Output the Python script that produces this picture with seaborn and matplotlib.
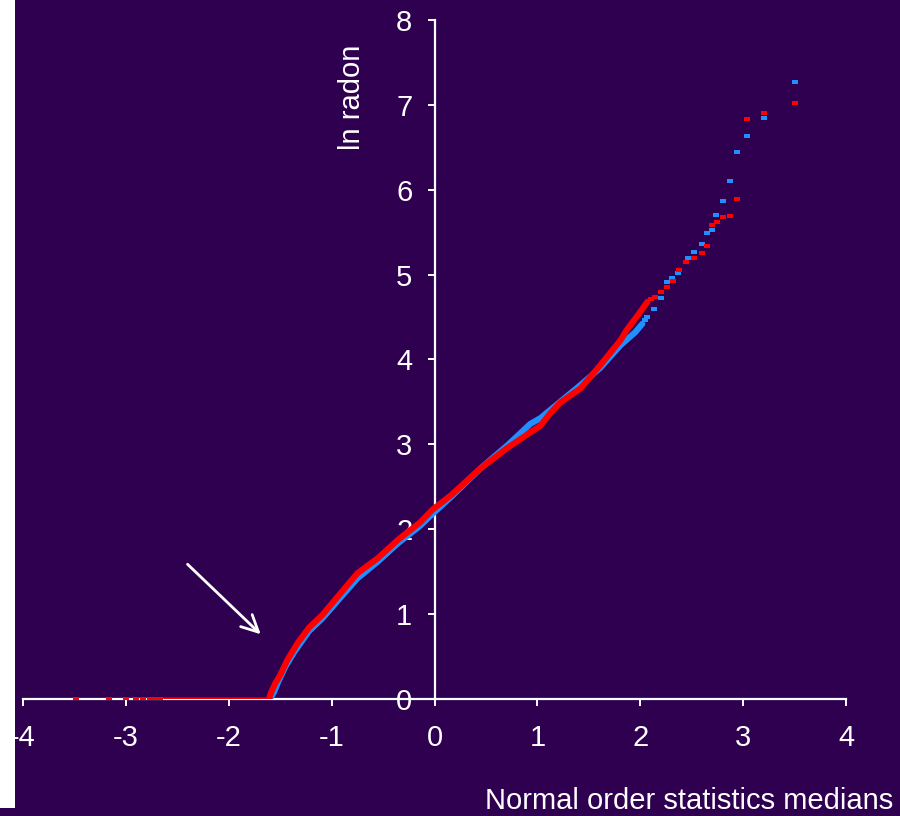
import numpy as np
import pandas as pd
import matplotlib
matplotlib.use("Agg")
import matplotlib.pyplot as plt
from matplotlib.patches import Rectangle
import seaborn as sns

# ---------------- data ----------------
# zero block (ties at ln radon = 0)
red_zero_x = [-2.63, -1.61]
red_zero_y = [0.0, 0.0]
blue_zero_x = [-2.63, -1.60]
blue_zero_y = [0.0, 0.0]

# dense part of each series
red_x = [-1.61, -1.58, -1.545, -1.50, -1.43, -1.33, -1.22, -1.09, -0.91, -0.75,
         -0.55, -0.36, -0.14, -0.02, 0.16, 0.45, 0.71, 0.93, 1.03, 1.12, 1.22,
         1.42, 1.61, 1.81, 1.87, 2.00, 2.07]
red_y = [0.00, 0.10, 0.19, 0.28, 0.46, 0.66, 0.84, 0.99, 1.25, 1.48,
         1.66, 1.87, 2.08, 2.23, 2.40, 2.72, 2.96, 3.14, 3.22, 3.36, 3.49,
         3.66, 3.93, 4.23, 4.35, 4.56, 4.68]
blue_x = [-1.60, -1.56, -1.52, -1.45, -1.36, -1.22, -1.09, -0.91, -0.75, -0.55,
          -0.36, -0.14, -0.02, 0.16, 0.45, 0.71, 0.93, 1.03, 1.22, 1.42, 1.61,
          1.81, 1.95, 2.02]
blue_y = [0.00, 0.08, 0.20, 0.38, 0.56, 0.80, 0.95, 1.20, 1.42, 1.62,
          1.83, 2.04, 2.18, 2.38, 2.72, 2.99, 3.24, 3.31, 3.50, 3.70, 3.90,
          4.17, 4.32, 4.42]

# sparse tails (individual points)
red_tail_x = [-3.48, -3.16, -3.00, -2.90, -2.83, -2.77, -2.72, -2.67,
              2.10, 2.14, 2.20, 2.26, 2.32, 2.38, 2.44, 2.52, 2.60, 2.65,
              2.70, 2.75, 2.80, 2.87, 2.94, 3.04, 3.20, 3.50]
red_tail_y = [0, 0, 0, 0, 0, 0, 0, 0,
              4.71, 4.74, 4.80, 4.86, 4.93, 5.05, 5.15, 5.19, 5.26, 5.34,
              5.58, 5.62, 5.68, 5.69, 5.89, 6.83, 6.90, 7.02]
blue_tail_x = [2.05, 2.07, 2.13, 2.20, 2.26, 2.31, 2.37, 2.46, 2.52, 2.60, 2.65,
               2.70, 2.74, 2.80, 2.87, 2.94, 3.04, 3.20, 3.50]
blue_tail_y = [4.46, 4.50, 4.60, 4.72, 4.91, 4.96, 5.02, 5.20, 5.27, 5.36, 5.49,
               5.52, 5.70, 5.87, 6.10, 6.45, 6.63, 6.84, 7.27]

x_ticks = [-4, -3, -2, -1, 0, 1, 2, 3, 4]
y_ticks = [0, 1, 2, 3, 4, 5, 6, 7, 8]
x_label = "Normal order statistics medians"
y_label = "ln radon"

# ---------------- style ----------------
BG = "#2F0050"
RED = "#FF0000"
BLUE = "#1E90FF"
WHITE = "#FFFFFF"
FS = 21

sns.set_style("white")
plt.rcParams["font.family"] = ["Liberation Sans", "DejaVu Sans"]
plt.rcParams["axes.unicode_minus"] = False

fig = plt.figure(figsize=(9.0, 8.16), dpi=100, facecolor=BG)
ax = fig.add_axes([23 / 900, 1 - 699 / 816, 823 / 900, 679 / 816])
ax.set_facecolor(BG)

rect_marker = [(-1, -0.7), (1, -0.7), (1, 0.7), (-1, 0.7)]
MS = 18

# blue series
sns.lineplot(x=blue_zero_x, y=blue_zero_y, ax=ax, color=BLUE, lw=2.2,
             estimator=None, sort=False, zorder=3)
sns.lineplot(x=blue_x, y=blue_y, ax=ax, color=BLUE, lw=4.4,
             estimator=None, sort=False, zorder=3)
sns.scatterplot(x=blue_tail_x, y=blue_tail_y, ax=ax, color=BLUE, marker=rect_marker,
                s=MS, linewidth=0, zorder=3)
# red series
sns.lineplot(x=red_zero_x, y=red_zero_y, ax=ax, color=RED, lw=2.4,
             estimator=None, sort=False, zorder=4)
sns.lineplot(x=red_x, y=red_y, ax=ax, color=RED, lw=4.4,
             estimator=None, sort=False, zorder=4)
sns.scatterplot(x=red_tail_x, y=red_tail_y, ax=ax, color=RED, marker=rect_marker,
                s=MS, linewidth=0, zorder=4)

ax.set_xlim(-4, 4)
ax.set_ylim(0, 8)
ax.set_xticks(x_ticks)
ax.set_yticks(y_ticks)
ax.set_xticklabels([str(t) for t in x_ticks])
ax.set_yticklabels([str(t) for t in y_ticks])

for side in ("top", "right"):
    ax.spines[side].set_visible(False)
ax.spines["left"].set_position(("data", 0))
ax.spines["bottom"].set_position(("data", 0))
for side in ("left", "bottom"):
    ax.spines[side].set_color(WHITE)
    ax.spines[side].set_linewidth(1.6)
    ax.spines[side].set_zorder(2)

ax.tick_params(axis="both", colors=WHITE, direction="out", length=5, width=1.4,
               labelsize=FS, labelcolor=WHITE)
ax.tick_params(axis="x", pad=13)
ax.tick_params(axis="y", pad=11)
ax.tick_params(bottom=True, left=True)

ax.set_xlabel(x_label, fontsize=FS, color=WHITE)
ax.xaxis.label.set_ha("right")
ax.xaxis.label.set_va("center")
ax.xaxis.set_label_coords((893 - 23) / 823, (699 - 801) / 679)

ax.set_ylabel(y_label, fontsize=FS, color=WHITE)
ax.yaxis.label.set_va("center")
ax.yaxis.label.set_ha("center")
ax.yaxis.set_label_coords((352 - 23) / 823, (699 - 97) / 679)

ax.annotate("", xy=(-1.67, 0.74), xytext=(-2.42, 1.61),
            arrowprops=dict(arrowstyle="->", color=WHITE, lw=2, mutation_scale=30))

# white strip at the left edge
fig.add_artist(Rectangle((0, 1 - 808 / 816), 15 / 900, 808 / 816,
                         transform=fig.transFigure, facecolor=WHITE,
                         edgecolor="none", zorder=10))

fig.savefig("out.png", dpi=100, facecolor=BG)
